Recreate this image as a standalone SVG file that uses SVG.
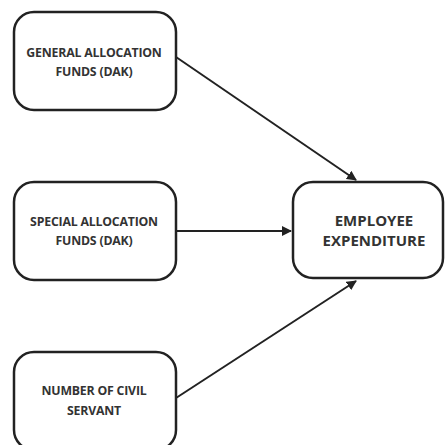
<svg xmlns="http://www.w3.org/2000/svg" width="445" height="445" viewBox="0 0 445 445">
<style>
.box{fill:#fff;stroke:#222;stroke-width:2.5}
.t{font-family:"Open Sans","DejaVu Sans",sans-serif;font-weight:bold;font-size:12.3px;fill:#333;text-anchor:middle;letter-spacing:-0.2px}
.tb{font-size:15px;letter-spacing:0}
.c{stroke:#222;stroke-width:2;fill:none;marker-end:url(#ah)}
</style>
<defs>
<marker id="ah" viewBox="0 0 10 10" refX="9" refY="5" markerWidth="5" markerHeight="5" orient="auto" markerUnits="strokeWidth">
<path d="M0,0 L10,5 L0,10 z" fill="#222"/>
</marker>
</defs>
<rect width="445" height="445" fill="#fff"/>
<g id="connectors">
<line class="c" x1="176" y1="57" x2="356" y2="180"/>
<line class="c" x1="176" y1="231" x2="291" y2="231"/>
<line class="c" x1="176" y1="398" x2="356" y2="281"/>
</g>
<g id="n1">
<rect class="box" x="14" y="12" width="162" height="98" rx="20"/>
<text class="t" x="94" y="57">GENERAL ALLOCATION</text>
<text class="t" x="94" y="76">FUNDS (DAK)</text>
</g>
<g id="n2">
<rect class="box" x="14" y="182" width="162" height="98" rx="20"/>
<text class="t" x="94" y="226">SPECIAL ALLOCATION</text>
<text class="t" x="94" y="245">FUNDS (DAK)</text>
</g>
<g id="n3">
<rect class="box" x="14" y="352" width="162" height="98" rx="20"/>
<text class="t" x="94" y="395">NUMBER OF CIVIL</text>
<text class="t" x="94" y="415">SERVANT</text>
</g>
<g id="n4">
<rect class="box" x="293" y="182" width="150" height="96" rx="20"/>
<text class="t tb" x="374" y="226">EMPLOYEE</text>
<text class="t tb" x="374" y="246">EXPENDITURE</text>
</g>
</svg>
